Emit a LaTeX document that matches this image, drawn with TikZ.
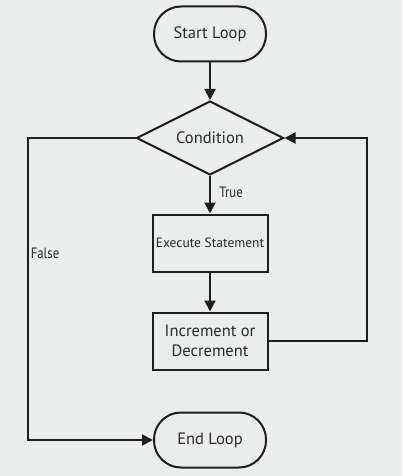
\documentclass[tikz,border=0pt]{standalone}
\usepackage{fontspec}
\setmainfont{PT Sans}
\usetikzlibrary{arrows.meta,shapes}
\definecolor{bgcol}{HTML}{EBECEC}
\definecolor{inkcol}{HTML}{1E1E1E}
\definecolor{txtcol}{HTML}{2A2A2A}
\tikzset{
  term/.style={draw=inkcol, text=txtcol, line width=2pt, rectangle, rounded corners=27pt,
    minimum width=112pt, minimum height=55pt, font=\fontsize{16.5}{19}\selectfont},
  cond/.style={draw=inkcol, text=txtcol, line width=2pt, diamond, aspect=2, inner sep=0pt,
    minimum width=147pt, minimum height=74pt, font=\fontsize{16.5}{19}\selectfont},
  proc/.style={draw=inkcol, text=txtcol, line width=2pt, rectangle, align=center,
    minimum width=115pt, minimum height=57pt, font=\fontsize{16.5}{20}\selectfont},
  lbl/.style={text=txtcol, font=\fontsize{15}{17}\selectfont, xscale=0.85, inner sep=0pt},
  arr/.style={draw=inkcol, line width=2pt, -{Triangle[length=11pt,width=11pt]}}
}
\begin{document}
\begin{tikzpicture}[x=1pt,y=-1pt]
\fill[bgcol] (0,0) rectangle (402,476);
\useasboundingbox (0,0) rectangle (402,476);
% boxes
\node[term] (start) at (210,34) {Start Loop};
\node[cond] (cond) at (210,138) {Condition};
\node[proc, font=\fontsize{13.5}{15}\selectfont] (exec) at (210,243) {Execute Statement};
\node[proc] (incr) at (210,341) {Increment or\\Decrement};
\node[term] (endl) at (210,440) {End Loop};
% corners of the loops
\coordinate (rloop) at (367,138);
\coordinate (lloop) at (28,440);
% arrows
\draw[arr] (start) -- (cond);
\draw[arr] (cond) -- (exec);
\draw[arr] (exec) -- (incr);
\draw[arr] (incr.east) -| (rloop) -- (cond.east);
\draw[arr] (cond.west) -| (lloop) -- (endl.west);
\node[lbl] (truel) at (231,192) {True};
\node[lbl] (falsel) at (45,253) {False};
\end{tikzpicture}
\end{document}
